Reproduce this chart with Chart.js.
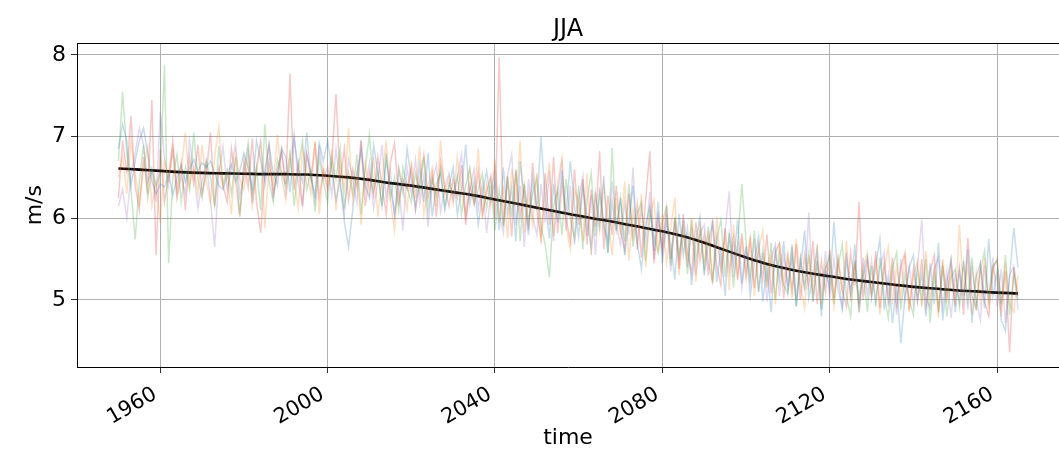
<!DOCTYPE html>
<html lang="en">
<head>
<meta charset="UTF-8">
<title>JJA</title>
<script src="https://cdn.jsdelivr.net/npm/chart.js"></script>
<style>
  html, body { margin: 0; padding: 0; background: #fff; overflow: hidden; }
  canvas { display: block; }
</style>
</head>
<body>
<canvas id="jja" width="1059" height="453"></canvas>
<script>
// ensemble members, one value per year, 1950 .. 2165
const firstYear = 1950;

const member1 = [
  6.85, 7.15, 6.95, 6.40, 6.70, 6.95, 7.10, 6.80, 6.45, 6.30,
  6.42, 6.38, 6.55, 6.28, 6.50, 6.65, 6.45, 6.60, 6.72, 6.58,
  6.68, 6.62, 6.70, 6.55, 6.40, 6.35, 6.52, 6.66, 6.45, 6.58,
  6.80, 6.62, 6.35, 6.95, 6.70, 6.48, 6.90, 6.55, 6.40, 6.85,
  6.75, 6.32, 6.98, 6.60, 6.45, 7.05, 6.50, 6.28, 6.92, 6.70,
  6.95, 6.60, 6.22, 6.48, 5.95, 5.65, 6.10, 6.55, 6.82, 6.40,
  6.25, 6.90, 6.55, 6.15, 6.72, 6.38, 6.05, 6.60, 6.30, 6.85,
  6.48, 6.12, 6.65, 6.20, 6.80, 6.02, 6.42, 6.55, 6.10, 6.38,
  6.62, 6.05, 6.35, 6.90, 6.18, 6.45, 5.92, 6.30, 6.58, 6.22,
  6.45, 5.85, 6.62, 6.05, 6.38, 5.72, 6.70, 6.25, 5.80, 6.48,
  6.10, 7.00, 6.22, 5.75, 6.42, 5.95, 6.58, 6.05, 6.70, 6.15,
  5.78, 6.38, 6.02, 5.62, 6.30, 5.90, 6.52, 5.58, 6.20, 5.85,
  6.25, 5.55, 5.98, 6.40, 5.70, 5.38, 5.92, 6.15, 5.60, 6.20,
  5.45, 5.95, 5.68, 5.25, 6.05, 5.55, 5.88, 5.18, 5.72, 6.02,
  5.30, 5.70, 5.95, 5.22, 5.62, 5.05, 5.80, 5.45, 5.98, 5.20,
  5.65, 5.05, 5.48, 5.78, 4.98, 5.42, 4.85, 5.60, 5.25, 5.72,
  5.10, 5.52, 4.92, 5.40, 5.85, 5.02, 5.30, 5.62, 4.80, 5.38,
  5.15, 5.95, 5.28, 4.90, 5.50, 5.08, 5.68, 4.85, 5.30, 5.52,
  5.02, 5.42, 5.75, 4.88, 5.30, 4.72, 5.18, 4.47, 5.05, 5.40,
  5.55, 5.00, 5.32, 4.80, 5.45, 4.95, 5.70, 4.75, 5.22, 5.50,
  4.85, 5.35, 5.02, 5.62, 4.72, 5.28, 5.45, 4.90, 5.75, 5.05,
  5.35, 4.75, 4.62, 5.30, 5.88, 5.40
];

const member2 = [
  6.50, 6.75, 6.30, 6.95, 6.55, 6.20, 6.62, 6.88, 6.15, 6.45,
  5.95, 6.70, 6.48, 6.85, 6.25, 6.58, 7.05, 6.40, 6.62, 6.30,
  6.90, 6.45, 6.20, 6.75, 7.12, 6.38, 6.55, 6.05, 6.80, 6.48,
  6.35, 6.72, 6.15, 6.58, 6.90, 5.88, 6.65, 6.40, 7.02, 6.50,
  6.22, 6.78, 6.45, 6.12, 6.85, 6.58, 6.30, 6.95, 6.05, 6.62,
  6.42, 6.85, 6.10, 6.70, 6.35, 7.10, 6.20, 6.55, 5.92, 6.68,
  6.30, 6.75, 6.02, 6.48, 6.95, 6.22, 5.85, 6.62, 6.38, 6.10,
  6.70, 6.25, 6.88, 6.05, 6.40, 6.62, 6.15, 6.95, 6.30, 6.50,
  6.18, 6.75, 6.32, 6.05, 6.58, 6.22, 6.85, 6.00, 6.42, 6.15,
  6.72, 5.95, 6.40, 5.75, 6.60, 6.15, 6.95, 5.82, 6.30, 5.92,
  6.55, 5.70, 6.25, 6.68, 5.78, 6.42, 6.75, 5.90, 5.62, 6.35,
  6.20, 5.72, 6.55, 5.55, 6.32, 5.85, 6.40, 5.98, 5.55, 6.25,
  5.80, 6.45, 5.48, 6.10, 5.68, 6.30, 5.40, 6.02, 6.22, 5.58,
  6.05, 5.45, 5.88, 6.25, 5.30, 5.82, 5.50, 6.00, 5.22, 5.95,
  5.42, 5.85, 5.20, 6.02, 5.35, 5.75, 5.12, 5.92, 5.30, 5.72,
  5.25, 5.78, 5.05, 5.62, 5.85, 5.15, 5.55, 4.95, 5.70, 5.22,
  5.58, 5.02, 5.75, 5.18, 4.90, 5.55, 5.08, 5.68, 4.95, 5.45,
  5.35, 4.92, 5.52, 5.08, 5.72, 4.98, 5.45, 4.85, 5.40, 5.58,
  5.05, 5.50, 4.82, 5.35, 5.65, 4.95, 5.42, 5.02, 5.55, 4.85,
  5.30, 5.48, 4.92, 5.60, 5.00, 5.40, 4.78, 5.50, 5.02, 5.35,
  4.92, 5.92, 5.05, 5.42, 4.82, 5.35, 4.98, 5.52, 4.88, 5.38,
  5.22, 4.80, 5.45, 4.95, 4.85, 5.30
];

const member3 = [
  6.70, 7.55, 6.80, 6.35, 5.74, 6.45, 6.90, 6.25, 6.60, 6.40,
  6.55, 7.88, 5.45, 6.50, 6.78, 6.20, 6.62, 6.35, 7.05, 6.48,
  6.25, 6.70, 6.50, 6.15, 6.88, 6.42, 6.60, 6.30, 6.75, 6.05,
  6.58, 6.92, 6.28, 6.62, 6.10, 7.15, 6.45, 6.20, 6.72, 6.55,
  6.40, 6.80, 6.15, 6.62, 6.95, 6.35, 6.58, 6.08, 6.75, 6.45,
  6.20, 6.72, 6.48, 6.85, 6.12, 6.55, 6.30, 6.78, 6.05, 6.62,
  7.02, 6.35, 6.58, 6.15, 6.80, 6.25, 6.50, 6.10, 6.62, 6.38,
  6.20, 6.55, 6.32, 6.75, 6.08, 6.48, 6.28, 6.60, 6.15, 6.42,
  6.30, 6.52, 6.05, 6.40, 6.62, 6.18, 6.35, 6.55, 6.12, 6.45,
  5.85, 6.35, 5.90, 6.52, 6.02, 6.60, 5.72, 6.42, 5.95, 6.30,
  6.50, 5.90, 5.68, 5.28, 6.15, 6.35, 5.80, 6.48, 6.00, 5.75,
  6.40, 5.62, 6.22, 6.55, 5.78, 6.30, 5.95, 5.58, 6.86, 5.85,
  6.25, 5.72, 6.42, 5.65, 6.05, 6.20, 5.48, 6.10, 5.78, 5.58,
  5.95, 6.15, 5.42, 6.02, 5.55, 5.90, 5.32, 5.98, 5.48, 5.85,
  5.38, 5.90, 5.22, 5.75, 5.98, 5.28, 5.82, 5.15, 5.68, 6.42,
  5.72, 5.28, 5.85, 5.10, 5.60, 5.22, 5.70, 5.00, 5.55, 5.18,
  5.08, 5.65, 4.92, 5.50, 5.15, 5.58, 4.98, 5.48, 4.88, 5.38,
  5.55, 4.95, 5.42, 5.68, 5.05, 4.80, 5.48, 4.98, 5.35, 4.85,
  5.42, 4.92, 5.52, 5.05, 4.78, 5.40, 5.58, 4.88, 5.32, 5.00,
  4.82, 5.38, 4.98, 5.50, 4.72, 5.30, 4.90, 5.42, 4.80, 5.28,
  5.38, 4.92, 5.45, 5.00, 5.52, 4.88, 5.35, 5.60, 5.02, 5.42,
  5.48, 4.95, 5.55, 4.82, 5.32, 5.00
];

const member4 = [
  6.25, 6.95, 6.55, 7.25, 6.40, 6.10, 6.75, 6.30, 7.45, 5.55,
  6.85, 6.20, 6.52, 6.95, 6.35, 6.68, 6.10, 6.75, 6.42, 6.90,
  6.30, 6.55, 7.05, 6.15, 6.62, 6.40, 6.20, 6.85, 6.48, 6.02,
  6.72, 6.38, 6.98, 6.20, 5.82, 6.60, 6.90, 6.30, 6.55, 6.85,
  6.42, 7.77, 6.35, 6.68, 6.15, 6.80, 6.48, 6.92, 6.25, 6.58,
  6.35, 6.70, 7.52, 6.45, 6.85, 6.22, 6.60, 6.38, 6.95, 6.15,
  6.55, 6.28, 6.75, 6.40, 6.05, 6.68, 6.92, 6.20, 6.48, 6.35,
  6.62, 6.10, 6.45, 6.78, 6.25, 6.55, 6.02, 6.70, 6.38, 6.15,
  6.48, 6.25, 6.65, 5.92, 6.40, 6.18, 6.58, 6.05, 6.32, 6.52,
  6.00, 7.97, 5.92, 6.50, 5.78, 6.58, 6.02, 6.40, 5.85, 6.68,
  6.10, 5.75, 6.55, 5.92, 6.75, 5.82, 6.42, 6.00, 5.72, 6.60,
  5.92, 6.48, 5.68, 6.35, 5.90, 6.82, 5.62, 6.28, 5.80, 6.40,
  5.85, 5.60, 6.30, 5.78, 6.18, 5.52, 6.22, 6.82, 5.45, 5.98,
  5.62, 6.15, 5.50, 6.00, 5.38, 6.05, 5.58, 5.32, 5.95, 5.48,
  5.80, 5.30, 5.98, 5.42, 5.18, 5.88, 5.35, 5.75, 5.25, 5.82,
  5.32, 5.75, 5.15, 5.65, 5.25, 5.80, 5.08, 5.58, 5.70, 5.02,
  5.52, 5.12, 5.68, 5.00, 5.55, 5.18, 5.72, 4.95, 5.48, 5.10,
  5.62, 5.02, 5.50, 5.12, 4.92, 5.58, 5.18, 6.20, 5.00, 5.48,
  5.08, 5.60, 4.90, 5.45, 5.02, 5.52, 4.95, 5.40, 5.58, 4.88,
  5.38, 4.98, 5.50, 4.92, 5.35, 5.55, 4.85, 5.42, 5.02, 5.48,
  5.00, 5.40, 4.82, 5.76, 5.05, 4.90, 5.42, 4.98, 4.80, 5.38,
  5.50, 4.92, 5.35, 4.36, 5.40, 5.05
];

const member5 = [
  6.15, 6.35, 6.00, 6.55, 6.80, 7.10, 6.90, 6.45, 6.60, 6.20,
  7.30, 6.75, 6.40, 6.85, 6.25, 6.52, 6.30, 6.95, 6.58, 6.12,
  6.45, 6.70, 6.22, 5.65, 6.55, 6.88, 6.35, 6.60, 6.92, 6.28,
  6.50, 6.85, 6.18, 6.62, 6.95, 6.40, 6.72, 6.25, 6.58, 6.80,
  6.30, 6.65, 7.02, 6.42, 6.15, 6.78, 6.55, 6.20, 6.90, 6.48,
  6.62, 6.28, 6.85, 6.40, 6.05, 6.72, 6.50, 6.18, 6.95, 6.35,
  6.68, 6.12, 6.45, 6.90, 6.25, 6.58, 6.02, 6.40, 5.85, 6.62,
  6.30, 6.72, 6.18, 6.52, 5.90, 6.45, 6.65, 6.08, 6.38, 6.55,
  6.22, 6.48, 6.78, 6.02, 6.35, 6.60, 6.12, 6.42, 5.82, 6.30,
  6.62, 6.05, 5.82, 6.52, 6.78, 5.92, 6.40, 5.65, 6.48, 6.02,
  5.80, 6.42, 5.95, 6.58, 5.72, 6.32, 6.68, 5.85, 6.40, 5.68,
  6.22, 6.52, 5.78, 6.28, 5.55, 6.38, 5.90, 5.72, 6.45, 5.92,
  5.68, 6.20, 5.80, 6.62, 5.62, 6.12, 5.72, 6.32, 5.50, 6.08,
  5.58, 6.05, 5.35, 5.92, 5.48, 5.98, 5.40, 5.88, 5.30, 5.80,
  5.92, 5.45, 5.22, 5.78, 5.38, 5.85, 6.33, 5.28, 5.68, 5.15,
  5.62, 5.22, 5.75, 5.10, 5.58, 4.98, 5.50, 5.68, 5.05, 5.55,
  5.18, 5.68, 5.02, 5.52, 5.12, 6.07, 4.98, 5.48, 5.08, 5.60,
  5.02, 5.50, 5.12, 4.90, 5.58, 5.08, 5.45, 4.95, 5.52, 5.05,
  5.48, 4.98, 5.40, 5.58, 4.92, 5.35, 4.82, 5.50, 5.00, 5.42,
  4.95, 5.42, 5.98, 5.02, 4.90, 5.38, 5.52, 4.92, 5.35, 4.78,
  5.32, 4.98, 5.48, 4.88, 5.40, 5.02, 4.75, 5.42, 5.00, 5.52,
  4.92, 5.38, 4.72, 5.30, 5.42, 4.88
];

// smoothed ensemble mean (black curve)
const meanYears = [
  1950, 1955, 1960, 1965, 1970, 1975, 1980, 1985, 1990, 1995,
  2000, 2005, 2010, 2015, 2020, 2025, 2030, 2035, 2040, 2045,
  2050, 2055, 2060, 2065, 2070, 2075, 2080, 2085, 2090, 2095,
  2100, 2105, 2110, 2115, 2120, 2125, 2130, 2135, 2140, 2145,
  2150, 2155, 2160, 2165
];
const meanValues = [
  6.61, 6.595, 6.58, 6.565, 6.555, 6.55, 6.545, 6.54, 6.54, 6.535,
  6.52, 6.50, 6.47, 6.43, 6.40, 6.36, 6.32, 6.28, 6.23, 6.18,
  6.13, 6.08, 6.03, 5.985, 5.94, 5.89, 5.84, 5.78, 5.70, 5.61,
  5.52, 5.44, 5.38, 5.33, 5.29, 5.25, 5.22, 5.19, 5.16, 5.14,
  5.12, 5.105, 5.09, 5.08
];

const xTicks = [1960, 2000, 2040, 2080, 2120, 2160];
const yTicks = [5, 6, 7, 8];

const members = [member1, member2, member3, member4, member5];
const memberColors = [
  'rgba(31,119,180,0.25)',
  'rgba(255,127,14,0.25)',
  'rgba(44,160,44,0.25)',
  'rgba(214,39,40,0.25)',
  'rgba(148,103,189,0.25)'
];

const datasets = members.map((vals, i) => ({
  data: vals.map((v, k) => ({ x: firstYear + k, y: v })),
  borderColor: memberColors[i],
  borderWidth: 1.5,
  pointRadius: 0,
  tension: 0
}));
datasets.push({
  data: meanYears.map((yr, k) => ({ x: yr, y: meanValues[k] })),
  borderColor: '#000',
  borderWidth: 2.6,
  pointRadius: 0,
  tension: 0.4
});

// matplotlib style top spine
const topSpine = {
  id: 'topSpine',
  afterDraw(chart) {
    const { ctx, chartArea } = chart;
    ctx.save();
    ctx.strokeStyle = '#000';
    ctx.lineWidth = 1;
    ctx.beginPath();
    ctx.moveTo(chartArea.left, Math.round(chartArea.top) + 0.5);
    ctx.lineTo(chartArea.right, Math.round(chartArea.top) + 0.5);
    ctx.stroke();
    ctx.restore();
  }
};

Chart.defaults.font.family = "'DejaVu Sans', sans-serif";
Chart.defaults.color = '#000';

new Chart(document.getElementById('jja'), {
  type: 'line',
  data: { datasets: datasets },
  plugins: [topSpine],
  options: {
    responsive: false,
    animation: false,
    devicePixelRatio: 1,
    layout: { padding: 0 },
    plugins: {
      legend: { display: false },
      tooltip: { enabled: false },
      title: {
        display: true,
        text: 'JJA',
        fullSize: false,
        font: { size: 24, weight: 'normal', lineHeight: 1.1 },
        padding: { top: 17, bottom: 0 }
      }
    },
    scales: {
      x: {
        type: 'linear',
        min: 1940.1,
        max: 2174.8,
        afterFit(scale) { scale.height = 86; },
        afterBuildTicks(scale) { scale.ticks = xTicks.map(v => ({ value: v })); },
        ticks: {
          minRotation: 30,
          maxRotation: 30,
          padding: 9,
          labelOffset: -5,
          font: { size: 21 },
          callback: v => String(v)
        },
        grid: { color: '#b0b0b0', lineWidth: 1, tickColor: '#333', tickLength: 6 },
        border: { color: '#000', width: 1 },
        title: {
          display: true,
          text: 'time',
          font: { size: 22 },
          padding: { top: 0, bottom: 2 }
        }
      },
      y: {
        min: 4.18,
        max: 8.14,
        afterFit(scale) { scale.width = 77; },
        afterBuildTicks(scale) { scale.ticks = yTicks.map(v => ({ value: v })); },
        ticks: { padding: 5, font: { size: 22 } },
        grid: { color: '#b0b0b0', lineWidth: 1, tickColor: '#333', tickLength: 6 },
        border: { color: '#000', width: 1 },
        title: {
          display: true,
          text: 'm/s',
          font: { size: 22 },
          padding: { top: 22, bottom: 0 }
        }
      }
    }
  }
});
</script>
</body>
</html>
